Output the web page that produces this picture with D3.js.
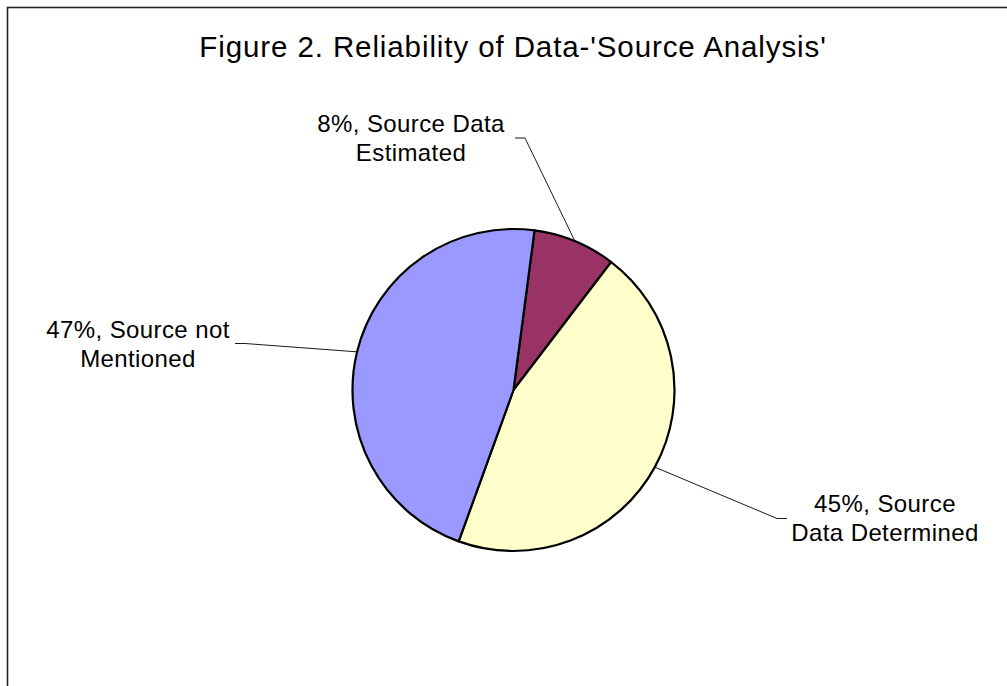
<!DOCTYPE html>
<html>
<head>
<meta charset="utf-8">
<script src="https://cdn.jsdelivr.net/npm/d3@7"></script>
<style>
  html, body { margin: 0; padding: 0; background: #fff; }
  svg { display: block; }
  text { font-family: "Liberation Sans", Arial, sans-serif; fill: #000; }
</style>
</head>
<body>
<svg id="chart" width="1007" height="686"></svg>
<script>
// ---- data ----
const titleText = "Figure 2. Reliability of Data-'Source Analysis'";
const categories = ["Source Data Estimated", "Source Data Determined", "Source not Mentioned"];
const values = [8.3, 45.2, 46.6];
const colors = ["#993366", "#FFFFCC", "#9999FF"];
const lineBreakAfter = [3, 2, 3]; // words on first label line

// ---- layout ----
const W = 1007, H = 686;
const cx = 513.5, cy = 390, R = 161;
const startDeg = 7.5;
// label text centre / first baseline and leader elbow (layout only)
const labelLayout = [
  { x: 411, y: 131.5, elbowX: 525, elbowY: 138, endX: 515 },
  { x: 885, y: 511.5, elbowX: 777, elbowY: 518.5, endX: 787 },
  { x: 138, y: 337.5, elbowX: 245, elbowY: 343.5, endX: 235 }
];
const lineGap = 29;

const svg = d3.select("#chart");

// border
svg.append("rect")
  .attr("x", 7.5).attr("y", 7.5)
  .attr("width", 1020).attr("height", 700)
  .attr("fill", "none")
  .attr("stroke", "#222")
  .attr("stroke-width", 1.6);

// title
svg.append("text")
  .attr("x", 513).attr("y", 57)
  .attr("text-anchor", "middle")
  .style("font-size", "29.5px")
  .style("letter-spacing", "0.9px")
  .text(titleText);

const total = d3.sum(values);
const pie = d3.pie().sort(null)
  .startAngle(startDeg * Math.PI / 180)
  .endAngle(startDeg * Math.PI / 180 + 2 * Math.PI);
const arcs = pie(values);
const arc = d3.arc().innerRadius(0).outerRadius(R);

const g = svg.append("g").attr("transform", `translate(${cx},${cy})`);

g.selectAll("path.slice")
  .data(arcs)
  .join("path")
  .attr("class", "slice")
  .attr("d", arc)
  .attr("fill", (d, i) => colors[i])
  .attr("stroke", "#000")
  .attr("stroke-width", 2.2)
  .attr("stroke-linejoin", "round");

// leader lines
arcs.forEach((d, i) => {
  const mid = (d.startAngle + d.endAngle) / 2;
  const px = cx + R * Math.sin(mid);
  const py = cy - R * Math.cos(mid);
  const L = labelLayout[i];
  svg.append("polyline")
    .attr("points", `${px},${py} ${L.elbowX},${L.elbowY} ${L.endX},${L.elbowY}`)
    .attr("fill", "none")
    .attr("stroke", "#000")
    .attr("stroke-width", 0.9);
});

// labels
arcs.forEach((d, i) => {
  const pct = Math.round(values[i] / total * 100);
  const words = (pct + "%, " + categories[i]).split(" ");
  const lines = [words.slice(0, lineBreakAfter[i]).join(" "), words.slice(lineBreakAfter[i]).join(" ")];
  const L = labelLayout[i];
  const t = svg.append("text")
    .attr("text-anchor", "middle")
    .style("font-size", "24px")
    .style("letter-spacing", "0.4px");
  lines.forEach((ln, j) => {
    t.append("tspan")
      .attr("x", L.x)
      .attr("y", L.y + j * lineGap)
      .text(ln);
  });
});
</script>
</body>
</html>
